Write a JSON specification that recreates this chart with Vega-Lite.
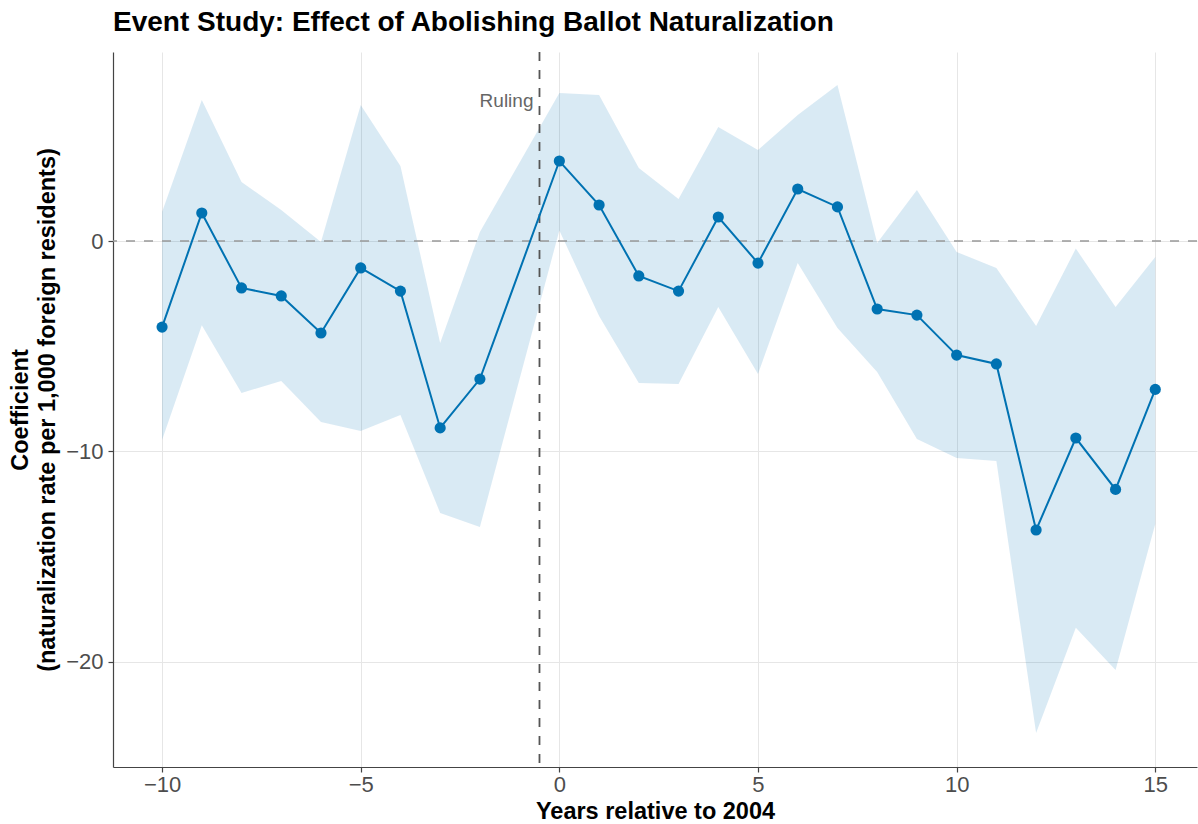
{
  "$schema": "https://vega.github.io/schema/vega-lite/v6.json",
  "width": 1084,
  "height": 715,
  "autosize": {"type": "none"},
  "padding": {"left": 113, "top": 52, "right": 1, "bottom": 57},
  "background": "white",
  "title": {
    "text": "Event Study: Effect of Abolishing Ballot Naturalization",
    "anchor": "start",
    "frame": "group",
    "font": "Liberation Sans",
    "fontSize": 28,
    "fontWeight": "bold",
    "color": "#000000",
    "baseline": "alphabetic",
    "offset": -8
  },
  "config": {
    "view": {"stroke": null},
    "font": "Liberation Sans",
    "axis": {
      "domainColor": "#444444",
      "domainWidth": 1.2,
      "tickColor": "#444444",
      "tickWidth": 1.2,
      "tickSize": 5,
      "gridColor": "#e6e6e6",
      "gridWidth": 1,
      "labelFont": "Liberation Sans",
      "labelFontSize": 22,
      "labelColor": "#4d4d4d",
      "titleFont": "Liberation Sans",
      "titleFontSize": 23.5,
      "titleFontWeight": "bold",
      "titleColor": "#000000"
    }
  },
  "datasets": {
    "est": [
      {"year": -10, "est": -4.09, "lo": -9.45, "hi": 1.38},
      {"year": -9, "est": 1.33, "lo": -4.0, "hi": 6.7},
      {"year": -8, "est": -2.23, "lo": -7.22, "hi": 2.8},
      {"year": -7, "est": -2.61, "lo": -6.65, "hi": 1.47},
      {"year": -6, "est": -4.37, "lo": -8.6, "hi": -0.05},
      {"year": -5, "est": -1.28, "lo": -9.03, "hi": 6.46},
      {"year": -4, "est": -2.38, "lo": -8.27, "hi": 3.56},
      {"year": -3, "est": -8.88, "lo": -12.92, "hi": -4.85},
      {"year": -2, "est": -6.56, "lo": -13.59, "hi": 0.43},
      {"year": 0, "est": 3.8, "lo": 0.5, "hi": 7.03},
      {"year": 1, "est": 1.71, "lo": -3.56, "hi": 6.94},
      {"year": 2, "est": -1.66, "lo": -6.75, "hi": 3.47},
      {"year": 3, "est": -2.38, "lo": -6.79, "hi": 2.0},
      {"year": 4, "est": 1.14, "lo": -3.14, "hi": 5.42},
      {"year": 5, "est": -1.05, "lo": -6.32, "hi": 4.32},
      {"year": 6, "est": 2.47, "lo": -1.05, "hi": 5.99},
      {"year": 7, "est": 1.62, "lo": -4.13, "hi": 7.41},
      {"year": 8, "est": -3.23, "lo": -6.22, "hi": -0.1},
      {"year": 9, "est": -3.52, "lo": -9.41, "hi": 2.42},
      {"year": 10, "est": -5.42, "lo": -10.31, "hi": -0.52},
      {"year": 11, "est": -5.84, "lo": -10.45, "hi": -1.28},
      {"year": 12, "est": -13.73, "lo": -23.37, "hi": -4.04},
      {"year": 13, "est": -9.36, "lo": -18.38, "hi": -0.36},
      {"year": 14, "est": -11.8, "lo": -20.38, "hi": -3.14},
      {"year": 15, "est": -7.05, "lo": -13.45, "hi": -0.76}
    ],
    "annot": [
      {"label": "Ruling", "ruleX": -0.5, "labelY": 6.65, "ref": 0}
    ]
  },
  "layer": [
    {
      "data": {"name": "est"},
      "mark": {"type": "area", "color": "#0072B2", "opacity": 0.15},
      "encoding": {
        "x": {
          "field": "year",
          "type": "quantitative",
          "scale": {"domain": [-11.235, 16.05], "nice": false, "zero": false},
          "axis": {
            "values": [-10, -5, 0, 5, 10, 15],
            "title": "Years relative to 2004",
            "labelPadding": 2,
            "titlePadding": 4
          }
        },
        "y": {
          "field": "lo",
          "type": "quantitative",
          "scale": {"domain": [-24.99, 8.98], "nice": false, "zero": false},
          "axis": {
            "values": [-20, -10, 0],
            "title": ["Coefficient", "(naturalization rate per 1,000 foreign residents)"],
            "labelPadding": 5,
            "titlePadding": 6,
            "titleLineHeight": 27
          }
        },
        "y2": {"field": "hi"}
      }
    },
    {
      "data": {"name": "annot"},
      "mark": {"type": "rule", "strokeDash": [9, 9], "color": "#999999", "strokeWidth": 1.6},
      "encoding": {"y": {"field": "ref", "type": "quantitative"}}
    },
    {
      "data": {"name": "annot"},
      "mark": {"type": "rule", "strokeDash": [9, 9], "color": "#555555", "strokeWidth": 1.8},
      "encoding": {"x": {"field": "ruleX", "type": "quantitative"}}
    },
    {
      "data": {"name": "annot"},
      "mark": {"type": "text", "align": "right", "baseline": "middle", "dx": -6, "fontSize": 19, "color": "#666666", "font": "Liberation Sans"},
      "encoding": {
        "x": {"field": "ruleX", "type": "quantitative"},
        "y": {"field": "labelY", "type": "quantitative"},
        "text": {"field": "label"}
      }
    },
    {
      "data": {"name": "est"},
      "mark": {"type": "line", "color": "#0072B2", "strokeWidth": 2},
      "encoding": {
        "x": {"field": "year", "type": "quantitative"},
        "y": {"field": "est", "type": "quantitative"}
      }
    },
    {
      "data": {"name": "est"},
      "mark": {"type": "circle", "color": "#0072B2", "size": 125, "opacity": 1},
      "encoding": {
        "x": {"field": "year", "type": "quantitative"},
        "y": {"field": "est", "type": "quantitative"}
      }
    }
  ]
}
